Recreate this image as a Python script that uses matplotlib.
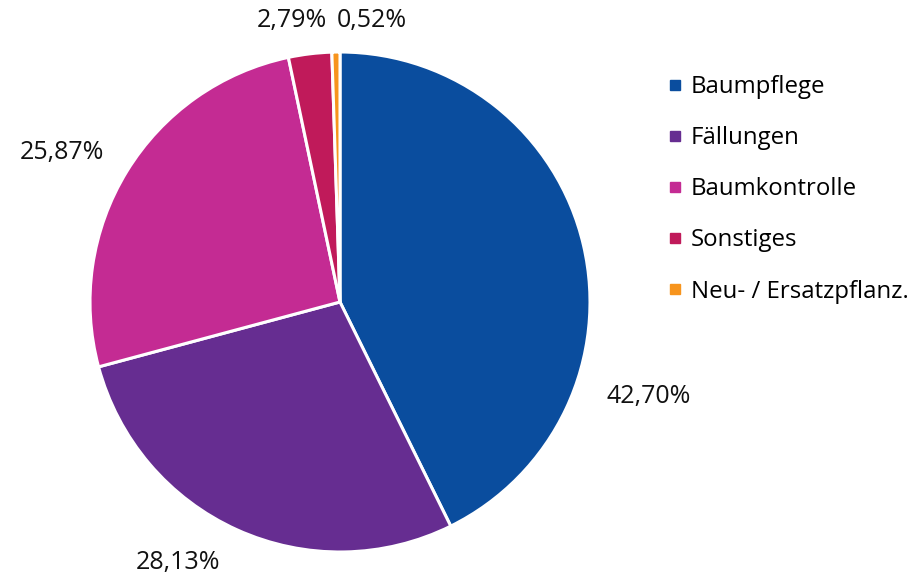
import matplotlib.pyplot as plt
from matplotlib.lines import Line2D

plt.rcParams['font.family'] = ['Open Sans', 'DejaVu Sans']

# data
categories = ['Baumpflege', 'Fällungen', 'Baumkontrolle', 'Sonstiges', 'Neu- / Ersatzpflanz.']
shares = [42.70, 28.13, 25.87, 2.79, 0.52]
pct_labels = ['42,70%', '28,13%', '25,87%', '2,79%', '0,52%']
colors = ['#0A4D9E', '#662D91', '#C42B93', '#C01A5A', '#F7941D']

# label positions (pie radius = 1)
label_pos = [(1.236, -0.38), (-0.648, -1.04), (-1.112, 0.596), (-0.192, 1.128), (0.128, 1.128)]

W, H = 919, 574
fig = plt.figure(figsize=(W / 100, H / 100), dpi=100)
ax = fig.add_axes([90 / W, 22 / H, 500 / W, 500 / H])

ax.pie(shares, colors=colors, startangle=90, counterclock=False,
       wedgeprops=dict(edgecolor='white', linewidth=2.2))
ax.set_xlim(-1, 1)
ax.set_ylim(-1, 1)
ax.set_aspect('equal')

for txt, (x, y) in zip(pct_labels, label_pos):
    ax.text(x, y, txt, ha='center', va='center', fontsize=18, color='#111111')

handles = [Line2D([], [], marker='s', linestyle='none', markersize=7.5,
                  markerfacecolor=c, markeredgecolor=c) for c in colors]
fig.legend(handles, categories, loc='upper left', bbox_to_anchor=(668 / W, 1 - 75 / H),
           frameon=False, fontsize=17.3, handlelength=0.55, handletextpad=0.4,
           labelspacing=1.13, borderpad=0, borderaxespad=0)

fig.savefig('out.png', dpi=100)
